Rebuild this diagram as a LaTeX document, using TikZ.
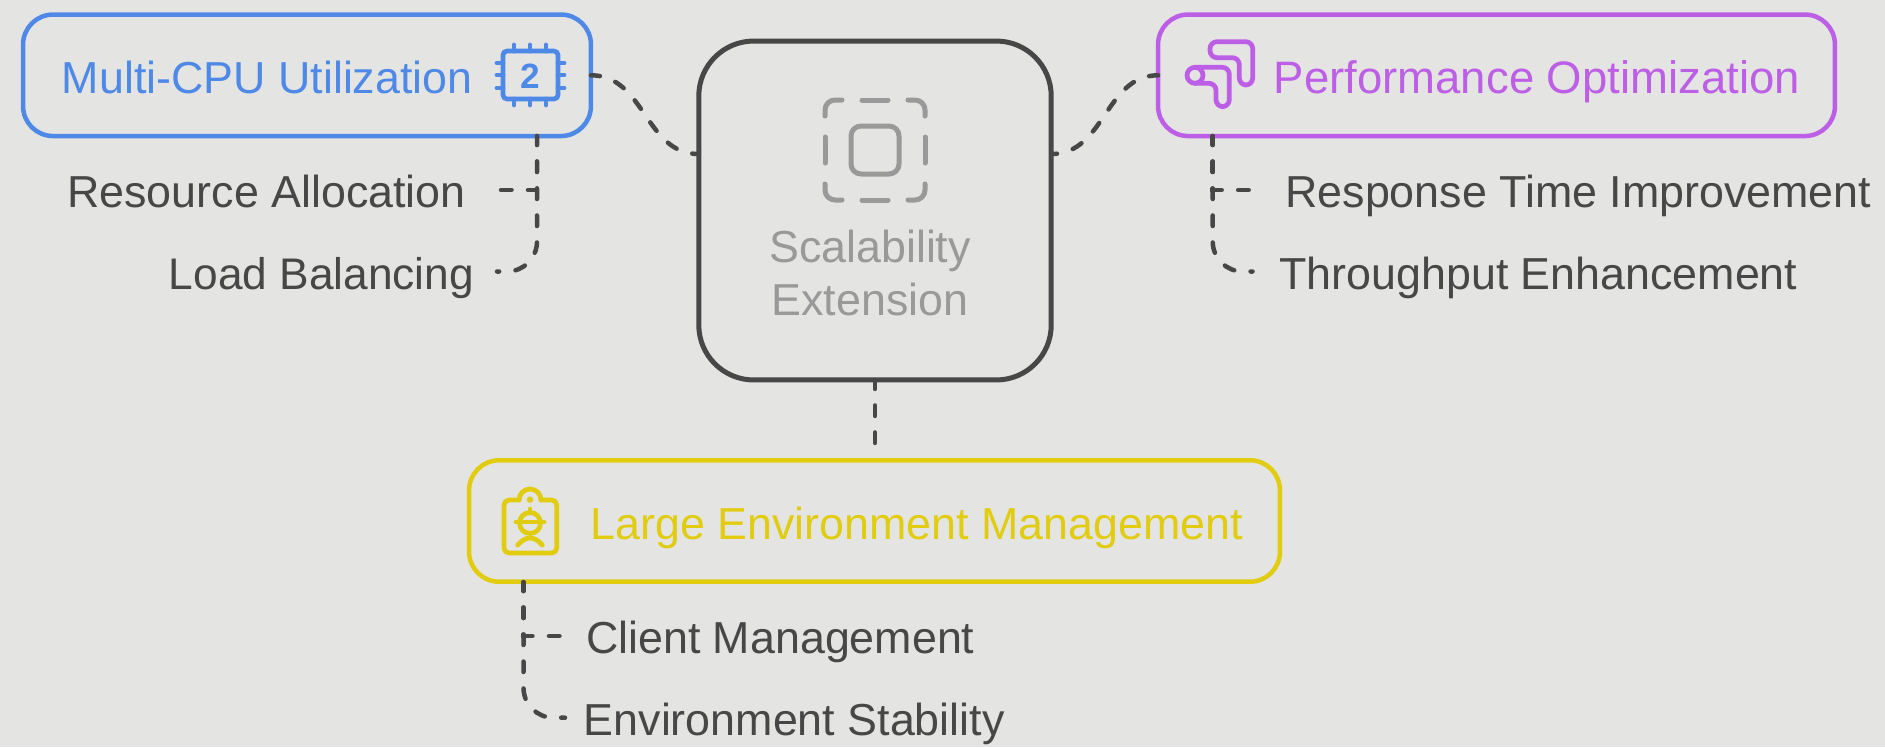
\documentclass[tikz,border=0pt]{standalone}
\usepackage{fontspec}
\setmainfont{Liberation Sans}
\usetikzlibrary{positioning}
\definecolor{pagebg}{HTML}{E4E4E2}
\definecolor{cpublue}{HTML}{4E89E8}
\definecolor{perfpurple}{HTML}{BC5FE6}
\definecolor{envyellow}{HTML}{E2CC10}
\definecolor{darkline}{HTML}{474747}
\definecolor{softgray}{HTML}{999999}
\tikzset{
	boxnode/.style={draw, rounded corners=0.6cm, line width=0.09cm, outer sep=0pt, inner sep=0pt, minimum height=2.43cm},
	titletext/.style={anchor=base west, inner sep=0pt, font=\fontsize{25.5}{28}\selectfont},
	leaftext/.style={inner ysep=0pt, text height=0.7cm, text depth=0pt, text=darkline, font=\fontsize{25.5}{28}\selectfont},
	dashline/.style={draw=darkline, line width=0.09cm, line cap=round, dash pattern=on 0.21cm off 0.33cm, dash phase=0.03cm},
	iconline/.style={line width=0.095cm, line cap=round, line join=round}
}

\begin{document}
\begin{tikzpicture}[x=0.02cm, y=-0.02cm]
			%%%%% START %%%%%
			\useasboundingbox (0, 0) rectangle (1885, 747);
			\fill[pagebg] (0, 0) rectangle (1885, 747);

			\node[boxnode, draw=cpublue, minimum width=11.36cm] (multi) at (307, 75.3) {};
			\node[boxnode, draw=perfpurple, minimum width=13.54cm] (perf) at (1496.5, 75.3) {};
			\node[boxnode, draw=envyellow, minimum width=16.22cm] (large) at (874.5, 521) {};
			\node[boxnode, draw=darkline, line width=0.1cm, rounded corners=1.1cm, minimum width=7.05cm, minimum height=6.78cm] (scal) at (875, 210.5) {};

			\node[titletext, text=cpublue] (multi text) at (61.5, 93) {Multi-CPU Utilization};
			\node[titletext, text=perfpurple, font=\fontsize{25.9}{28}\selectfont] (perf text) at (1273.5, 93) {Performance Optimization};
			\node[titletext, text=envyellow] (large text) at (590, 539) {Large Environment Management};
			\node[align=center, text=softgray, inner sep=0pt, font=\fontsize{25.5}{30}\selectfont] (scal text) at (870, 273) {Scalability\\Extension};

			\node[leaftext, anchor=east, inner xsep=0.62cm] (res) at (497, 190) {Resource Allocation};
			\node[leaftext, anchor=east, inner xsep=0.45cm, font=\fontsize{25.2}{28}\selectfont] (load) at (497, 271.5) {Load Balancing};
			\node[leaftext, anchor=west, inner xsep=0.65cm] (resp) at (1252.5, 190) {Response Time Improvement};
			\node[leaftext, anchor=west, inner xsep=0.53cm] (thru) at (1252.5, 271.5) {Throughput Enhancement};
			\node[leaftext, anchor=west, inner xsep=0.44cm] (client) at (563.7, 636) {Client Management};
			\node[leaftext, anchor=west, inner xsep=0.37cm] (stab) at (565, 717.7) {Environment Stability};

			\coordinate (scal left) at (698.5, 154);
			\coordinate (scal right) at (1051.5, 154);
			\coordinate (large top) at (875, 445);
			\coordinate (multi stem) at (537, 136);
			\coordinate (perf stem) at (1212.7, 136);
			\coordinate (large stem) at (523.5, 582);

			\draw[dashline] (multi.east) .. controls (645, 75.3) and (645, 154) .. (scal left);
			\draw[dashline] (perf.west) .. controls (1105, 75.3) and (1105, 154) .. (scal right);
			\draw[dashline] (scal.south) -- (large top);

			\draw[dashline] (multi stem) |- (res.east);
			\draw[dashline, rounded corners=0.6cm] (multi stem) |- (load.east);
			\draw[dashline] (perf stem) |- (resp.west);
			\draw[dashline, rounded corners=0.6cm] (perf stem) |- (thru.west);
			\draw[dashline] (large stem) |- (client.west);
			\draw[dashline, rounded corners=0.6cm] (large stem) |- (stab.west);

			% chip
			\draw[iconline, draw=cpublue, rounded corners=0.08cm] (503, 51) rectangle (558, 99);
			\foreach \px in {514, 530, 546} {
				\draw[iconline, draw=cpublue] (\px, 45) -- (\px, 51);
				\draw[iconline, draw=cpublue] (\px, 99) -- (\px, 105);
			}
			\foreach \py in {63, 75, 88} {
				\draw[iconline, draw=cpublue] (497, \py) -- (503, \py);
				\draw[iconline, draw=cpublue] (558, \py) -- (564, \py);
			}
			\node[text=cpublue, inner sep=0pt, font=\fontsize{20}{24}\selectfont\bfseries] (chip num) at (530.5, 76) {2};

			% arrows
			\draw[iconline, draw=perfpurple, rounded corners=0.14cm] (1210, 41.7) -- (1252.7, 41.7) -- (1252.7, 85) -- (1239.3, 85) -- (1239.3, 57.7) -- (1210, 57.7) -- cycle;
			\draw[iconline, draw=perfpurple, rounded corners=0.14cm] (1195, 67.3) -- (1229.3, 67.3) -- (1229.3, 106.7) -- (1216, 106.7) -- (1216, 83.3) -- (1195, 83.3);
			\draw[iconline, draw=perfpurple] (1195, 75.3) circle (0.16cm);

			% badge
			\draw[iconline, draw=envyellow, rounded corners=0.1cm] (519, 500) -- (504, 500) -- (504, 553) -- (556.7, 553) -- (556.7, 500) -- (541, 500);
			\draw[iconline, draw=envyellow] (519, 500) .. controls (519, 494) and (524, 489) .. (530, 489) .. controls (536, 489) and (541, 494) .. (541, 500);
			\fill[envyellow] (530, 499.7) circle (0.065cm);
			\draw[iconline, draw=envyellow] (530, 523) circle (0.21cm);
			\draw[iconline, draw=envyellow] (516, 522) -- (544, 522);
			\draw[iconline, draw=envyellow] (530, 509) -- (530, 513);
			\draw[iconline, draw=envyellow] (517.7, 545) .. controls (522, 540) and (526, 538) .. (530, 538) .. controls (534, 538) and (538, 540) .. (542.3, 545);

			% scaling
			\draw[iconline, draw=softgray, line width=0.1cm, rounded corners=0.2cm] (825, 116) -- (825, 100) -- (842, 100);
			\draw[iconline, draw=softgray, line width=0.1cm, rounded corners=0.2cm] (908, 100) -- (925, 100) -- (925, 116);
			\draw[iconline, draw=softgray, line width=0.1cm, rounded corners=0.2cm] (825, 184) -- (825, 200) -- (842, 200);
			\draw[iconline, draw=softgray, line width=0.1cm, rounded corners=0.2cm] (908, 200) -- (925, 200) -- (925, 184);
			\draw[iconline, draw=softgray, line width=0.1cm] (862, 100) -- (888, 100);
			\draw[iconline, draw=softgray, line width=0.1cm] (862, 200) -- (888, 200);
			\draw[iconline, draw=softgray, line width=0.1cm] (825, 137) -- (825, 163);
			\draw[iconline, draw=softgray, line width=0.1cm] (925, 137) -- (925, 163);
			\draw[iconline, draw=softgray, line width=0.1cm, rounded corners=0.2cm] (851, 126) rectangle (899, 174);
			%%%%% END %%%%%
		\end{tikzpicture}
\end{document}
